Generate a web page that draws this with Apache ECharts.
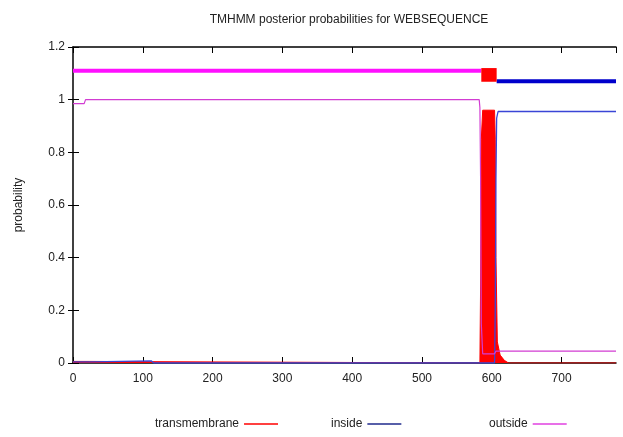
<!DOCTYPE html>
<html>
<head>
<meta charset="utf-8">
<script src="https://cdn.jsdelivr.net/npm/echarts@6/dist/echarts.min.js"></script>
<style>
html,body{margin:0;padding:0;background:#fff;}
#c{width:623px;height:437px;}
</style>
</head>
<body>
<div id="c"></div>
<script>
// ---- data ----
const titleText = 'TMHMM posterior probabilities for WEBSEQUENCE';
const seqLength = 778;
const yTicksMax = 1.2;
const xTickStep = 100;
const yTickStep = 0.2;

// thin posterior probability curves [position, probability]
const transmembrane = [[0,0.006],[24,0.006],[26,0],[583,0],[584,0.3],[585,0.85],[587,0.96],[604,0.96],[605,0.85],[606,0.4],[608,0.08],[612,0.03],[618,0.01],[624,0],[778,0]];
const inside = [[0,0.004],[26,0.004],[28,0.008],[112,0.008],[116,0],[604,0],[605,0.2],[606,0.7],[607,0.93],[609,0.955],[778,0.955]];
const outside = [[0,0.985],[16,0.985],[18,1.0],[582,1.0],[583,0.97],[584,0.7],[585,0.15],[587,0.035],[604,0.035],[606,0.045],[778,0.045]];

// predicted topology (thick lines above 1)
const outsideTop = [[0,1.11],[585,1.11]];
const insideTop = [[607,1.07],[778,1.07]];
const tmBox = [[585,607,1.068,1.12]];

const FONT = "'Liberation Sans Narrow','Liberation Sans',Arial,sans-serif";
const chart = echarts.init(document.getElementById('c'));
const legendBase = {
  orient:'horizontal', align:'right', icon:'rect', itemWidth:34, itemHeight:1.5,
  top:413, selectedMode:false,
  textStyle:{fontFamily:FONT, fontSize:12, color:'#222'}
};
chart.setOption({
  animation:false,
  backgroundColor:'#fff',
  title:{text:titleText, left:344, top:9, textAlign:'center',
    textStyle:{fontFamily:FONT, fontSize:12, fontWeight:'normal', color:'#222'}},
  grid:{left:73, right:7, top:47, bottom:74},
  legend:[
    Object.assign({}, legendBase, {data:['transmembrane'], left:150}),
    Object.assign({}, legendBase, {data:['inside'], left:326}),
    Object.assign({}, legendBase, {data:['outside'], left:484})
  ],
  xAxis:[
    {type:'value', min:0, max:seqLength, interval:xTickStep, position:'bottom',
     axisLine:{show:true, onZero:false, lineStyle:{color:'#000', width:1.5}},
     axisTick:{show:true, inside:true, length:6, lineStyle:{color:'#000'}},
     axisLabel:{fontFamily:FONT, fontSize:12, color:'#222', margin:10, showMaxLabel:false},
     splitLine:{show:false}},
    {type:'value', min:0, max:seqLength, interval:xTickStep, position:'top',
     axisLine:{show:true, onZero:false, lineStyle:{color:'#000', width:1.5}},
     axisTick:{show:true, inside:true, length:6, lineStyle:{color:'#000'}},
     axisLabel:{show:false}, splitLine:{show:false}}
  ],
  yAxis:[
    {type:'value', min:0, max:yTicksMax, interval:yTickStep, position:'left',
     name:'probability', nameLocation:'middle', nameGap:48, nameRotate:90,
     nameTextStyle:{fontFamily:FONT, fontSize:12, color:'#222'},
     axisLine:{show:true, onZero:false, lineStyle:{color:'#000', width:1.5}},
     axisTick:{show:true, inside:true, length:6, lineStyle:{color:'#000'}},
     axisLabel:{fontFamily:FONT, fontSize:12, color:'#222', margin:8},
     splitLine:{show:false}},
    {type:'value', min:0, max:yTicksMax, interval:yTickStep, position:'right',
     axisLine:{show:false},
     axisTick:{show:true, inside:true, length:5, lineStyle:{color:'#000'}},
     axisLabel:{show:false}, splitLine:{show:false}}
  ],
  series:[
    {name:'transmembrane', type:'line', data:transmembrane, showSymbol:false, symbol:'none',
     lineStyle:{color:'#ff0000', width:1}, itemStyle:{color:'#ff0000'},
     areaStyle:{color:'#ff0000', opacity:1}, z:2},
    {name:'inside', type:'line', data:inside, showSymbol:false, symbol:'none',
     lineStyle:{color:'#3a46d6', width:1.3}, itemStyle:{color:'#1f2a8c'}, z:3},
    {name:'outside', type:'line', data:outside, showSymbol:false, symbol:'none',
     lineStyle:{color:'#d23cd2', width:1.2}, itemStyle:{color:'#e040e0'}, z:4},
    {name:'outsideTop', type:'line', data:outsideTop, showSymbol:false, symbol:'none',
     lineStyle:{color:'#ff10ff', width:4}, z:3},
    {name:'insideTop', type:'line', data:insideTop, showSymbol:false, symbol:'none',
     lineStyle:{color:'#0000cc', width:4}, z:3},
    {name:'tmTop', type:'custom', data:tmBox, encode:{x:[0,1], y:[2,3]}, z:4,
     renderItem:function(params, api){
       const p0 = api.coord([api.value(0), api.value(3)]);
       const p1 = api.coord([api.value(1), api.value(2)]);
       return {type:'rect', shape:{x:p0[0], y:p0[1], width:p1[0]-p0[0], height:p1[1]-p0[1]},
               style:{fill:'#ff0000'}};
     }}
  ]
});
</script>
</body>
</html>
